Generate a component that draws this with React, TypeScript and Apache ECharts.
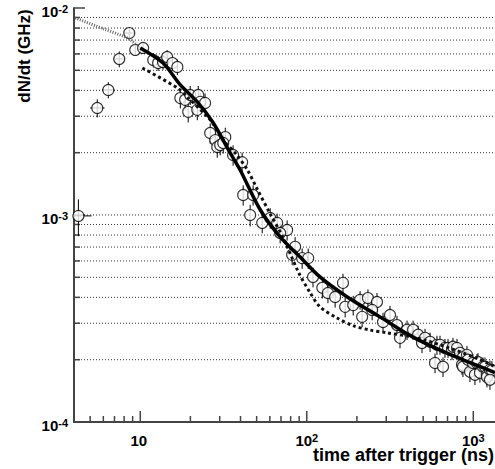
import React, { useEffect, useRef } from 'react';
import * as echarts from 'echarts';

const X_MIN = 4;
const X_MAX = 1350;
const Y_MIN = 1e-4;
const Y_MAX = 1e-2;

const X_MAJOR = [10, 100, 1000];
const X_LABEL_EXP = ['', '2', '3'];
const X_MINOR = [5, 6, 7, 8, 9, 20, 30, 40, 50, 60, 70, 80, 90, 200, 300, 400, 500, 600, 700, 800, 900];
const Y_MAJOR = [1e-4, 1e-3, 1e-2];
const Y_LABEL_EXP = ['-4', '-3', '-2'];
const Y_MINOR = [2e-4, 3e-4, 4e-4, 5e-4, 6e-4, 7e-4, 8e-4, 9e-4, 2e-3, 3e-3, 4e-3, 5e-3, 6e-3, 7e-3, 8e-3, 9e-3];
const Y_GRID = [2e-4, 3e-4, 4e-4, 5e-4, 6e-4, 7e-4, 8e-4, 9e-4, 1e-3, 2e-3, 3e-3, 4e-3, 5e-3, 6e-3, 7e-3, 8e-3, 9e-3];

// measured points: [time (ns), dN/dt (GHz), error]
const POINTS: [number, number, number][] = [
  [4.25, 9.9e-4, 2.0e-4],
  [5.52, 3.29e-3, 3.3e-4],
  [6.43, 4.02e-3, 3.6e-4],
  [7.48, 5.67e-3, 5.0e-4],
  [8.59, 7.57e-3, 4.0e-4],
  [9.33, 6.27e-3, 3.5e-4],
  [10.4, 6.41e-3, 3.5e-4],
  [11.97, 5.61e-3, 4.5e-4],
  [12.8, 5.42e-3, 4.5e-4],
  [13.7, 5.48e-3, 4.5e-4],
  [14.5, 5.8e-3, 4.5e-4],
  [15.6, 5.42e-3, 4.5e-4],
  [16.7, 5.19e-3, 4.5e-4],
  [17.4, 3.67e-3, 4.0e-4],
  [18.6, 3.6e-3, 4.0e-4],
  [19.95, 3.8e-3, 4.0e-4],
  [22.3, 3.8e-3, 4.0e-4],
  [19.4, 3.15e-3, 3.5e-4],
  [22.0, 3.22e-3, 3.5e-4],
  [22.9, 3.52e-3, 3.8e-4],
  [24.5, 3.48e-3, 3.8e-4],
  [26.3, 2.49e-3, 2.8e-4],
  [28.2, 2.3e-3, 2.6e-4],
  [29.0, 2.13e-3, 2.4e-4],
  [30.2, 2.18e-3, 2.4e-4],
  [32.4, 2.38e-3, 2.6e-4],
  [31.5, 2.23e-3, 2.5e-4],
  [36.1, 1.95e-3, 2.2e-4],
  [40.9, 1.8e-3, 2.0e-4],
  [41.5, 1.25e-3, 1.4e-4],
  [47.6, 1.25e-3, 1.4e-4],
  [45.7, 1.0e-3, 1.2e-4],
  [54.0, 9.16e-4, 1.0e-4],
  [60.3, 9.68e-4, 1.1e-4],
  [66.4, 9.16e-4, 1.0e-4],
  [76.2, 8.47e-4, 9.5e-5],
  [69.2, 8.19e-4, 9.0e-5],
  [85.1, 7.02e-4, 8.0e-5],
  [81.7, 6.42e-4, 7.0e-5],
  [93.8, 6.19e-4, 7.0e-5],
  [102, 6.19e-4, 7.0e-5],
  [109, 5.02e-4, 5.5e-5],
  [124, 4.45e-4, 5.0e-5],
  [134, 4.2e-4, 4.5e-5],
  [148, 4.02e-4, 4.5e-5],
  [165, 4.7e-4, 5.0e-5],
  [170, 3.6e-4, 4.0e-5],
  [190, 3.67e-4, 4.0e-5],
  [215, 3.22e-4, 3.5e-5],
  [209, 3.89e-4, 4.0e-5],
  [233, 3.97e-4, 4.0e-5],
  [264, 3.8e-4, 4.0e-5],
  [247, 3.48e-4, 3.8e-5],
  [287, 3.04e-4, 3.3e-5],
  [316, 3.29e-4, 3.5e-5],
  [348, 2.94e-4, 3.2e-5],
  [363, 2.55e-4, 2.8e-5],
  [400, 2.79e-4, 3.0e-5],
  [435, 2.79e-4, 3.0e-5],
  [466, 2.64e-4, 2.8e-5],
  [492, 2.41e-4, 2.6e-5],
  [513, 2.55e-4, 2.7e-5],
  [550, 2.44e-4, 2.6e-5],
  [605, 2.36e-4, 2.5e-5],
  [631, 2.36e-4, 2.5e-5],
  [589, 1.93e-4, 2.1e-5],
  [658, 1.85e-4, 2.0e-5],
  [676, 2.28e-4, 2.4e-5],
  [705, 2.28e-4, 2.4e-5],
  [745, 2.23e-4, 2.4e-5],
  [755, 2.31e-4, 2.4e-5],
  [798, 2.28e-4, 2.4e-5],
  [832, 2.16e-4, 2.3e-5],
  [867, 2.06e-4, 2.2e-5],
  [855, 1.89e-4, 2.0e-5],
  [867, 1.85e-4, 2.0e-5],
  [916, 2.11e-4, 2.2e-5],
  [929, 2.0e-4, 2.1e-5],
  [955, 1.75e-4, 1.9e-5],
  [995, 1.93e-4, 2.0e-5],
  [1052, 1.93e-4, 2.0e-5],
  [1067, 1.95e-4, 2.0e-5],
  [1023, 1.69e-4, 1.8e-5],
  [1096, 1.73e-4, 1.8e-5],
  [1143, 1.85e-4, 2.0e-5],
  [1175, 1.85e-4, 2.0e-5],
  [1208, 1.69e-4, 1.8e-5],
  [1208, 1.65e-4, 1.8e-5],
  [1259, 1.79e-4, 1.9e-5],
  [1294, 1.78e-4, 1.9e-5],
  [1259, 1.6e-4, 1.7e-5],
];

// horizontal (bin) bars: [x low, x high, y]
const X_BARS: [number, number, number][] = [
  [4.0, 5.1, 9.9e-4],
  [5.0, 6.1, 3.29e-3],
  [5.9, 7.0, 4.02e-3],
  [6.9, 8.1, 5.67e-3],
  [8.0, 9.2, 7.57e-3],
];

const FIT_X = [10, 13.7, 17.4, 22.0, 27.4, 34.6, 39.8, 52.5, 69.2, 91.2, 120, 175, 275, 435, 695, 1000, 1350];
const FIT_Y = [6.41e-3, 5.42e-3, 4.25e-3, 3.52e-3, 2.79e-3, 2.0e-3, 1.65e-3, 1.06e-3, 7.83e-4, 6.26e-4, 5.02e-4, 4.02e-4, 3.22e-4, 2.57e-4, 2.15e-4, 1.91e-4, 1.73e-4];

const MODEL_X = [10.3, 16.7, 19.1, 26.3, 31.5, 38, 44, 50, 60, 72, 89, 105, 120, 152, 190, 240, 300, 435, 695, 1096, 1350];
const MODEL_Y = [5.13e-3, 4.11e-3, 3.72e-3, 2.88e-3, 2.3e-3, 1.95e-3, 1.65e-3, 1.35e-3, 1.02e-3, 7.8e-4, 5.3e-4, 4.2e-4, 3.6e-4, 3.18e-4, 2.92e-4, 2.78e-4, 2.7e-4, 2.57e-4, 2.3e-4, 2.0e-4, 1.85e-4];

const EXTRAP_X = [4.07, 6, 8.36, 9.5];
const EXTRAP_Y = [8.95e-3, 7.94e-3, 7.16e-3, 6.65e-3];

const FONT = '"Liberation Sans", Arial, Helvetica, sans-serif';
const AXIS_COLOR = '#444';

const near = (a: number, b: number) => Math.abs(a - b) / b < 1e-6;

export default function App() {
  const ref = useRef<HTMLDivElement>(null);
  useEffect(() => {
    document.body.style.margin = '0';
    const chart = echarts.init(ref.current!, undefined, { renderer: 'svg' });
    const rich = {
      b: { fontFamily: FONT, fontSize: 15, fontWeight: 'bold', color: '#000', lineHeight: 16, verticalAlign: 'bottom' },
      s: { fontFamily: FONT, fontSize: 11, fontWeight: 'bold', color: '#000', lineHeight: 12, verticalAlign: 'top', padding: [0, 0, 12, 0] },
    };
    const option: any = {
      animation: false,
      grid: { left: 74, right: 0, top: 8, bottom: 47, containLabel: false },
      xAxis: {
        type: 'log',
        logBase: 10,
        min: X_MIN,
        max: X_MAX,
        axisLine: { show: true, onZero: false, lineStyle: { color: AXIS_COLOR, width: 2 } },
        axisTick: { show: false },
        splitLine: { show: false },
        axisLabel: {
          showMinLabel: false,
          showMaxLabel: false,
          margin: 10,
          rich,
          formatter: (v: number) => {
            const i = X_MAJOR.findIndex((m) => near(v, m));
            if (i < 0) return '';
            return `{b|10}{s|${X_LABEL_EXP[i] || ' '}}`;
          },
        },
      },
      yAxis: {
        type: 'log',
        logBase: 10,
        min: Y_MIN,
        max: Y_MAX,
        axisLine: { show: true, onZero: false, lineStyle: { color: AXIS_COLOR, width: 2 } },
        axisTick: { show: false },
        splitLine: { show: false },
        axisLabel: {
          margin: 6,
          padding: [6, 0, 0, 0],
          rich,
          formatter: (v: number) => {
            const i = Y_MAJOR.findIndex((m) => near(v, m));
            if (i < 0) return '';
            return `{b|10}{s|${Y_LABEL_EXP[i]}}`;
          },
        },
      },
      graphic: [
        {
          type: 'text',
          x: 24,
          y: 56,
          rotation: Math.PI / 2,
          style: {
            text: 'dN/dt (GHz)',
            font: `bold 17px ${FONT}`,
            fill: '#000',
            textAlign: 'center',
            textVerticalAlign: 'middle',
          },
        },
        {
          type: 'text',
          x: 494,
          y: 455,
          style: {
            text: 'time after trigger (ns)',
            font: `bold 18px ${FONT}`,
            fill: '#000',
            textAlign: 'right',
            textVerticalAlign: 'middle',
          },
        },
      ],
      series: [
        {
          type: 'custom',
          name: 'grid',
          z: 1,
          silent: true,
          data: Y_GRID.map((v) => [X_MIN, v]),
          renderItem: (params: any, api: any) => {
            const p = api.coord([X_MIN, api.value(1)]);
            const q = api.coord([X_MAX, api.value(1)]);
            return {
              type: 'line',
              shape: { x1: p[0] + 1, y1: p[1], x2: q[0], y2: q[1] },
              style: { stroke: '#333', lineWidth: 1, lineDash: [1, 2] },
            };
          },
        },
        {
          type: 'custom',
          name: 'xticks',
          z: 2,
          silent: true,
          data: [...X_MAJOR.map((v) => [v, Y_MIN, 1]), ...X_MINOR.map((v) => [v, Y_MIN, 0])],
          renderItem: (params: any, api: any) => {
            const p = api.coord([api.value(0), Y_MIN]);
            const len = api.value(2) ? 11 : 6;
            return {
              type: 'line',
              shape: { x1: p[0], y1: p[1], x2: p[0], y2: p[1] - len },
              style: { stroke: AXIS_COLOR, lineWidth: 1.5 },
            };
          },
        },
        {
          type: 'custom',
          name: 'yticks',
          z: 2,
          silent: true,
          data: [...Y_MAJOR.map((v) => [X_MIN, v, 1]), ...Y_MINOR.map((v) => [X_MIN, v, 0])],
          renderItem: (params: any, api: any) => {
            const p = api.coord([X_MIN, api.value(1)]);
            const len = api.value(2) ? 11 : 6;
            return {
              type: 'line',
              shape: { x1: p[0], y1: p[1], x2: p[0] + len, y2: p[1] },
              style: { stroke: AXIS_COLOR, lineWidth: 1.5 },
            };
          },
        },
        {
          type: 'custom',
          name: 'yerr',
          z: 3,
          silent: true,
          data: POINTS.map(([x, y, e]) => [x, y - e, y + e]),
          renderItem: (params: any, api: any) => {
            const a = api.coord([api.value(0), api.value(1)]);
            const b = api.coord([api.value(0), api.value(2)]);
            return {
              type: 'line',
              shape: { x1: a[0], y1: a[1], x2: b[0], y2: b[1] },
              style: { stroke: '#000', lineWidth: 1 },
            };
          },
        },
        {
          type: 'custom',
          name: 'xerr',
          z: 3,
          silent: true,
          data: X_BARS.map(([x1, x2, y]) => [x1, y, x2]),
          renderItem: (params: any, api: any) => {
            const a = api.coord([api.value(0), api.value(1)]);
            const b = api.coord([api.value(2), api.value(1)]);
            return {
              type: 'line',
              shape: { x1: a[0], y1: a[1], x2: b[0], y2: b[1] },
              style: { stroke: '#000', lineWidth: 1 },
            };
          },
        },
        {
          type: 'scatter',
          name: 'data',
          z: 4,
          symbol: 'circle',
          symbolSize: 11,
          itemStyle: { color: '#fff', borderColor: '#000', borderWidth: 1.1 },
          data: POINTS.map(([x, y]) => [x, y]),
        },
        {
          type: 'line',
          name: 'extrapolation',
          z: 5,
          showSymbol: false,
          symbol: 'none',
          smooth: 0.3,
          lineStyle: { color: '#666', width: 3, type: [1, 1.5] },
          data: EXTRAP_X.map((x, i) => [x, EXTRAP_Y[i]]),
        },
        {
          type: 'line',
          name: 'model',
          z: 5,
          showSymbol: false,
          symbol: 'none',
          smooth: 0.3,
          lineStyle: { color: '#111', width: 3, type: [3, 3] },
          data: MODEL_X.map((x, i) => [x, MODEL_Y[i]]),
        },
        {
          type: 'line',
          name: 'fit',
          z: 6,
          showSymbol: false,
          symbol: 'none',
          smooth: 0.3,
          lineStyle: { color: '#000', width: 3.5 },
          data: FIT_X.map((x, i) => [x, FIT_Y[i]]),
        },
      ],
    };
    chart.setOption(option);
    return () => chart.dispose();
  }, []);
  return <div ref={ref} style={{ width: 495, height: 469 }} />;
}
